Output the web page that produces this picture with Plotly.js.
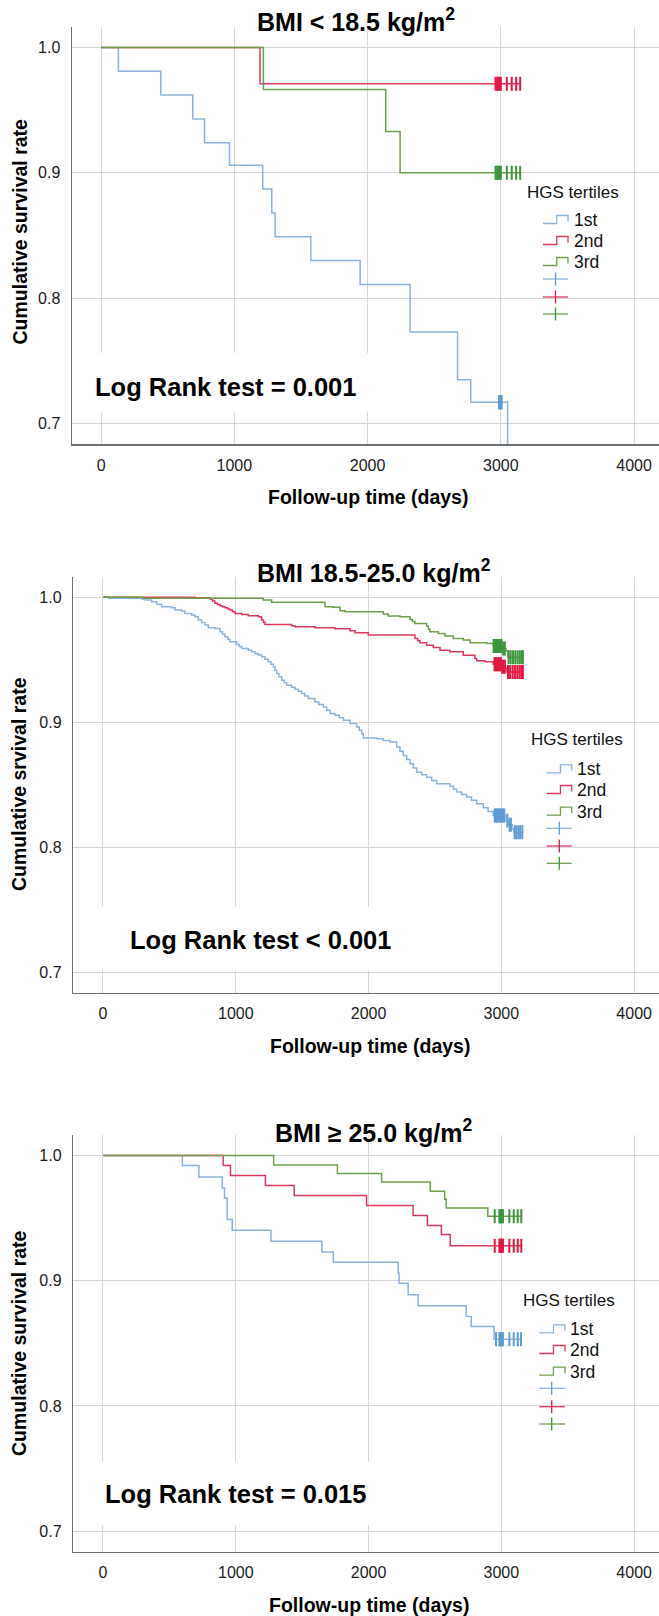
<!DOCTYPE html>
<html><head><meta charset="utf-8">
<script src="https://cdn.plot.ly/plotly-3.0.1.min.js"></script>
<style>html,body{margin:0;padding:0;background:#fff}#chart{width:659px;height:1616px}</style>
</head><body><div id="chart"></div>
<script>
// ---------------- DATA ----------------
const xTicks = [0, 1000, 2000, 3000, 4000];
const yTicks = [0.7, 0.8, 0.9, 1.0];
const yTickText = ['0.7', '0.8', '0.9', '1.0'];
const panelTitles = ['BMI &lt; 18.5 kg/m<sup>2</sup>', 'BMI 18.5-25.0 kg/m<sup>2</sup>', 'BMI ≥ 25.0 kg/m<sup>2</sup>'];
const yTitles = ['Cumulative survival rate', 'Cumulative srvival rate', 'Cumulative survival rate'];
const xTitle = 'Follow-up time (days)';
const logRankTexts = ['Log Rank test = 0.001', 'Log Rank test &lt; 0.001', 'Log Rank test = 0.015'];
const legendTitle = 'HGS tertiles';
const groupNames = ['1st', '2nd', '3rd'];

// Panel 1: BMI < 18.5
const p1BlueT = [0, 130, 448, 688, 776, 963, 1213, 1281, 1306, 1574, 1944, 2319, 2675, 2774, 3051];
const p1BlueS = [1, 0.981, 0.962, 0.943, 0.924, 0.906, 0.887, 0.868, 0.849, 0.830, 0.811, 0.773, 0.735, 0.717, 0.600];
const p1BlueC = [2986, 2990, 2994, 2998, 3002, 3006];
const p1RedT = [0, 1193, 3150];
const p1RedS = [1, 0.971, 0.971];
const p1RedC = [2960, 2972, 2978, 2984, 2990, 3000, 3045, 3082, 3115, 3145];
const p1GreenT = [0, 1218, 2136, 2244, 3150];
const p1GreenS = [1, 0.9665, 0.933, 0.900, 0.900];
const p1GreenC = [2960, 2972, 2978, 2984, 2990, 3000, 3045, 3082, 3115, 3145];

// Panel 2: BMI 18.5-25.0
const p2BlueT = [0, 40, 291, 316, 366, 404, 442, 517, 542, 592, 617, 668, 693, 718, 743, 768, 793, 843, 881, 900, 919, 940, 956, 1006, 1025, 1044, 1094, 1120, 1145, 1170, 1195, 1220, 1245, 1265, 1283, 1295, 1308, 1325, 1346, 1365, 1383, 1420, 1446, 1470, 1496, 1520, 1546, 1596, 1625, 1659, 1684, 1709, 1747, 1780, 1810, 1860, 1910, 1930, 1948, 1960, 2061, 2110, 2161, 2211, 2236, 2261, 2287, 2312, 2337, 2362, 2400, 2437, 2475, 2513, 2613, 2640, 2663, 2700, 2739, 2775, 2814, 2864, 2900, 2939, 3035, 3055, 3080, 3095, 3165];
const p2BlueS = [1, 0.9992, 0.9986, 0.9978, 0.9965, 0.9944, 0.9925, 0.9917, 0.9898, 0.989, 0.9871, 0.9858, 0.9845, 0.9818, 0.9798, 0.9778, 0.9757, 0.9751, 0.9724, 0.9704, 0.9684, 0.9664, 0.9644, 0.9623, 0.9607, 0.9591, 0.9577, 0.9564, 0.9551, 0.9538, 0.9524, 0.9504, 0.9484, 0.9464, 0.9444, 0.9417, 0.939, 0.9364, 0.9337, 0.9317, 0.9297, 0.9281, 0.9265, 0.9248, 0.923, 0.921, 0.919, 0.9163, 0.9143, 0.9123, 0.9096, 0.907, 0.9056, 0.9036, 0.9016, 0.899, 0.8962, 0.8936, 0.8909, 0.8874, 0.8869, 0.8855, 0.8842, 0.8802, 0.8768, 0.8735, 0.8702, 0.8669, 0.8635, 0.8601, 0.8581, 0.8561, 0.8535, 0.8508, 0.8487, 0.8464, 0.8441, 0.8421, 0.8401, 0.8375, 0.8348, 0.8316, 0.8285, 0.8254, 0.8214, 0.818, 0.8145, 0.812, 0.812];
const p2BlueC = [2950, 2958, 2966, 2974, 2982, 2990, 2998, 3006, 3014, 3022, 3045, 3062, 3072, 3100, 3112, 3128, 3142, 3158];
const p2RedT = [0, 693, 806, 825, 843, 862, 881, 900, 919, 938, 956, 975, 994, 1044, 1094, 1170, 1195, 1208, 1220, 1421, 1446, 1596, 1747, 1860, 1898, 1998, 2349, 2370, 2387, 2437, 2487, 2538, 2613, 2713, 2801, 2814, 2877, 2939, 3000, 3030, 3042, 3165];
const p2RedS = [1, 0.9997, 0.9986, 0.997, 0.9952, 0.9942, 0.9933, 0.9925, 0.9917, 0.9907, 0.9898, 0.9885, 0.9871, 0.9863, 0.9853, 0.9845, 0.9818, 0.98, 0.9783, 0.9772, 0.9764, 0.9756, 0.9748, 0.9733, 0.9716, 0.9698, 0.9671, 0.9652, 0.9636, 0.9617, 0.9599, 0.9577, 0.9564, 0.9537, 0.9511, 0.9492, 0.9484, 0.9465, 0.9445, 0.943, 0.9403, 0.9403];
const p2RedC = [2948, 2956, 2964, 2972, 2980, 2988, 2996, 3006, 3016, 3026, 3050, 3066, 3085, 3102, 3120, 3136, 3150, 3162];
const p2GreenT = [0, 300, 1207, 1270, 1672, 1730, 1785, 1822, 2111, 2148, 2236, 2312, 2330, 2349, 2437, 2450, 2462, 2525, 2575, 2638, 2713, 2764, 2889, 2939, 3010, 3035, 3050, 3165];
const p2GreenS = [1, 0.9992, 0.9978, 0.996, 0.9925, 0.992, 0.9893, 0.9885, 0.9866, 0.985, 0.9845, 0.9823, 0.9807, 0.9791, 0.977, 0.9747, 0.9724, 0.9711, 0.969, 0.9671, 0.9658, 0.9636, 0.9631, 0.961, 0.959, 0.957, 0.952, 0.952];
const p2GreenC = [2942, 2950, 2958, 2966, 2974, 2982, 2992, 3002, 3014, 3026, 3055, 3070, 3088, 3105, 3122, 3138, 3152, 3162];

// Panel 3: BMI >= 25.0
const p3BlueT = [0, 598, 722, 898, 915, 935, 973, 1265, 1648, 1735, 2223, 2230, 2298, 2373, 2735, 2773, 2945, 3150];
const p3BlueS = [1, 0.992, 0.9827, 0.974, 0.966, 0.9488, 0.9403, 0.9315, 0.923, 0.9147, 0.906, 0.898, 0.8888, 0.88, 0.8714, 0.8634, 0.8533, 0.8533];
const p3BlueC = [2960, 2985, 2990, 2995, 3000, 3005, 3012, 3060, 3093, 3123, 3148];
const p3RedT = [0, 905, 960, 1223, 1440, 1985, 2335, 2443, 2548, 2615, 3152];
const p3RedS = [1, 0.992, 0.984, 0.976, 0.968, 0.960, 0.952, 0.944, 0.9368, 0.928, 0.928];
const p3RedC = [2950, 2985, 2990, 2995, 3000, 3005, 3012, 3060, 3093, 3123, 3150];
const p3GreenT = [0, 1285, 1765, 2098, 2465, 2573, 2585, 2898, 3152];
const p3GreenS = [1, 0.9923, 0.9856, 0.9787, 0.9715, 0.965, 0.958, 0.9515, 0.9515];
const p3GreenC = [2950, 2985, 2990, 2995, 3000, 3005, 3012, 3060, 3093, 3123, 3150];

// ---------------- STYLE / LAYOUT ----------------
const lineColors = ['#8cb3dc', '#d93a5e', '#6e9f4c'];
const censColors = ['#5d9cd6', '#e3173f', '#3b963b'];
const FONT = 'Liberation Sans, Arial, Helvetica, sans-serif';
const W = 659, H = 1616, ML = 72;
const px = x => (x - ML) / (W - ML);
const py = y => 1 - y / H;

const geo = [
  {top: 27, bottom: 444, left: 72, xr: [-218.4, 4187], title: [355.5, 20.5], ytitle: [19, 231.5], xtitle: [368, 497], lr: [225.5, 387], box: [82, 353, 385, 412],
   leg: {tx: 572.5, ty: 192, g0: 543, g1: 568, tl: 572, iy: [220, 241, 262], cy: [279, 297, 314], cx: 555.5}},
  {top: 577, bottom: 992.5, left: 73.3, xr: [-223.6, 4187], title: [374, 570.5], ytitle: [19, 784], xtitle: [370, 1046], lr: [260.7, 939.5], box: [92, 906.7, 405, 970.5],
   leg: {tx: 576.7, ty: 740, g0: 546.7, g1: 571.7, tl: 575, iy: [769.3, 790, 811.7], cy: [828.3, 846, 863.3], cx: 559.3}},
  {top: 1135, bottom: 1551.7, left: 73.3, xr: [-223.6, 4187], title: [373.3, 1130.5], ytitle: [19, 1343], xtitle: [369, 1605], lr: [235.5, 1493.8], box: [85, 1461.7, 384, 1525],
   leg: {tx: 569.3, ty: 1300, g0: 539.3, g1: 565, tl: 568.3, iy: [1329.3, 1350, 1371.7], cy: [1388.3, 1406.7, 1424], cx: 551.7}}
];

const panelSeries = [
  [[p1BlueT, p1BlueS, p1BlueC], [p1RedT, p1RedS, p1RedC], [p1GreenT, p1GreenS, p1GreenC]],
  [[p2BlueT, p2BlueS, p2BlueC], [p2RedT, p2RedS, p2RedC], [p2GreenT, p2GreenS, p2GreenC]],
  [[p3BlueT, p3BlueS, p3BlueC], [p3RedT, p3RedS, p3RedC], [p3GreenT, p3GreenS, p3GreenC]]
];

function stepAt(T, S, t) {
  let v = S[0];
  for (let i = 0; i < T.length; i++) { if (T[i] <= t) v = S[i]; }
  return v;
}

const traces = [];
const layout = {
  width: W, height: H, margin: {l: ML, r: 0, t: 0, b: 0},
  paper_bgcolor: '#fff', plot_bgcolor: '#fff', showlegend: false,
  font: {family: FONT, color: '#111'},
  annotations: [], shapes: []
};

geo.forEach((g, p) => {
  const sfx = p === 0 ? '' : String(p + 1);
  const xa = 'xaxis' + sfx, ya = 'yaxis' + sfx;
  layout[xa] = {
    domain: [px(g.left), 1], range: g.xr, anchor: 'y' + sfx,
    tickvals: xTicks, ticktext: xTicks.map(String), ticks: '',
    showline: true, linecolor: '#707070', linewidth: 1.5,
    showgrid: true, gridcolor: '#d7d7d7', gridwidth: 1, zeroline: false,
    tickfont: {family: FONT, size: 16, color: '#1a1a1a'}, ticklabelstandoff: 6, fixedrange: true
  };
  layout[ya] = {
    domain: [py(g.bottom), py(g.top)], range: [0.6837, 1.0163], anchor: 'x' + sfx,
    tickvals: yTicks, ticktext: yTickText, ticks: '',
    showline: true, linecolor: '#707070', linewidth: 1.5,
    showgrid: true, gridcolor: '#d7d7d7', gridwidth: 1, zeroline: false,
    tickfont: {family: FONT, size: 16, color: '#1a1a1a'}, ticklabelstandoff: 7, fixedrange: true
  };

  panelSeries[p].forEach((ser, k) => {
    const [T, S, C] = ser;
    traces.push({
      x: T, y: S, mode: 'lines', line: {shape: 'hv', color: lineColors[k], width: 1.5},
      xaxis: 'x' + sfx, yaxis: 'y' + sfx, hoverinfo: 'skip'
    });
    traces.push({
      x: C, y: C.map(t => stepAt(T, S, t)), mode: 'markers',
      marker: {symbol: 'line-ns-open', size: 10, color: censColors[k], line: {width: 2, color: censColors[k]}},
      xaxis: 'x' + sfx, yaxis: 'y' + sfx, hoverinfo: 'skip'
    });
  });

  // white box behind the log-rank label (breaks the vertical grid like the original)
  layout.shapes.push({type: 'rect', xref: 'paper', yref: 'paper', layer: 'above',
    x0: px(g.box[0]), x1: px(g.box[2]), y0: py(g.box[3]), y1: py(g.box[1]),
    fillcolor: '#fff', line: {width: 0}});

  const A = layout.annotations;
  A.push({text: '<b>' + panelTitles[p] + '</b>', xref: 'paper', yref: 'paper', x: px(g.title[0]), y: py(g.title[1]),
    xanchor: 'center', yanchor: 'middle', showarrow: false, font: {family: FONT, size: 25, color: '#000'}});
  A.push({text: '<b>' + yTitles[p] + '</b>', xref: 'paper', yref: 'paper', x: px(g.ytitle[0]), y: py(g.ytitle[1]),
    xanchor: 'center', yanchor: 'middle', textangle: -90, showarrow: false, font: {family: FONT, size: 19.5, color: '#000'}});
  A.push({text: '<b>' + xTitle + '</b>', xref: 'paper', yref: 'paper', x: px(g.xtitle[0]), y: py(g.xtitle[1]),
    xanchor: 'center', yanchor: 'middle', showarrow: false, font: {family: FONT, size: 19.5, color: '#000'}});
  A.push({text: '<b>' + logRankTexts[p] + '</b>', xref: 'paper', yref: 'paper', x: px(g.lr[0]), y: py(g.lr[1]),
    xanchor: 'center', yanchor: 'middle', showarrow: false, font: {family: FONT, size: 25.5, color: '#000'}});

  // legend
  const L = g.leg;
  A.push({text: legendTitle, xref: 'paper', yref: 'paper', x: px(L.tx), y: py(L.ty),
    xanchor: 'center', yanchor: 'middle', showarrow: false, font: {family: FONT, size: 17, color: '#111'}});
  groupNames.forEach((nm, k) => {
    const yc = L.iy[k];
    const xm = L.g0 + 0.55 * (L.g1 - L.g0);
    const yl = yc + 3.5, yt = yc - 4.5;
    layout.shapes.push({type: 'path', xref: 'paper', yref: 'paper', layer: 'above',
      path: `M ${px(L.g0)},${py(yl)} L ${px(xm)},${py(yl)} L ${px(xm)},${py(yt)} L ${px(L.g1)},${py(yt)} L ${px(L.g1)},${py(yc + 1.5)}`,
      line: {color: lineColors[k], width: 1.3}});
    A.push({text: nm, xref: 'paper', yref: 'paper', x: px(L.tl), y: py(yc),
      xanchor: 'left', yanchor: 'middle', showarrow: false, font: {family: FONT, size: 17.5, color: '#111'}});
    const cy = L.cy[k];
    layout.shapes.push({type: 'line', xref: 'paper', yref: 'paper', layer: 'above',
      x0: px(L.g0), x1: px(L.g1), y0: py(cy), y1: py(cy), line: {color: lineColors[k], width: 1.3}});
    layout.shapes.push({type: 'line', xref: 'paper', yref: 'paper', layer: 'above',
      x0: px(L.cx), x1: px(L.cx), y0: py(cy - 6.5), y1: py(cy + 6.5), line: {color: censColors[k], width: 1.3}});
  });
});

Plotly.newPlot('chart', traces, layout, {staticPlot: true, displayModeBar: false});
</script>
</body></html>
